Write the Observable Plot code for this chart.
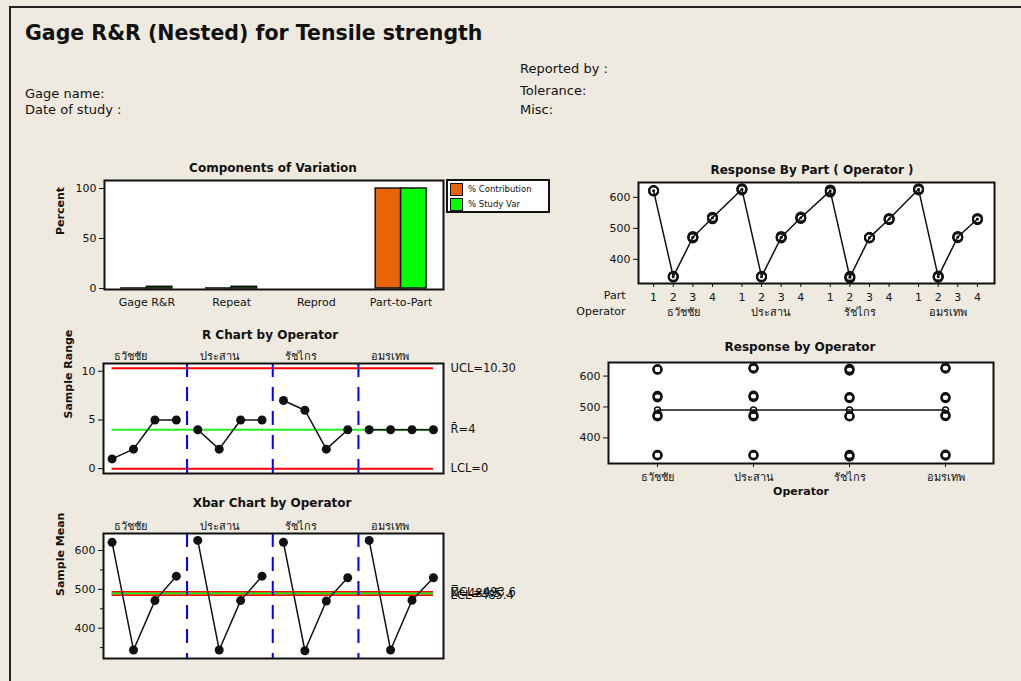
<!DOCTYPE html>
<html><head><meta charset="utf-8">
<script src="https://cdn.jsdelivr.net/npm/d3@7"></script>
<script src="https://cdn.jsdelivr.net/npm/@observablehq/plot@0.6"></script>
<style>
html,body{margin:0;padding:0;background:#EEEAE0;overflow:hidden;}
#page{position:relative;width:1021px;height:681px;overflow:hidden;background:#EEEAE0;font-family:"DejaVu Sans",sans-serif;color:#111;}
#btop{position:absolute;left:9px;top:6px;width:1012px;height:2px;background:#222;}
#bleft{position:absolute;left:9px;top:6px;width:2px;height:675px;background:#222;}
.abs{position:absolute;white-space:nowrap;}
.title{position:absolute;width:400px;text-align:center;font-weight:bold;font-size:12px;line-height:14px;}
.hdr{position:absolute;font-size:13px;line-height:16px;white-space:nowrap;}
#legend{position:absolute;left:446px;top:179px;width:100px;height:30px;border:2px solid #111;background:#fff;font-size:8.5px;}
.sw{position:absolute;left:2px;width:11px;height:11px;border:1.5px solid #111;}
.lt{position:absolute;left:20px;line-height:11px;}
</style></head>
<body><div id="page"><div id="btop"></div><div id="bleft"></div></div>
<script>
// ---------- data ----------
const operators = ["ธวัชชัย", "ประสาน", "รัชไกร", "อมรเทพ"];
const parts = [1, 2, 3, 4];
const components = ["Gage R&R", "Repeat", "Reprod", "Part-to-Part"];
const pctContribution = [0.03, 0.03, 0.0, 99.97];
const pctStudyVar = [1.7, 1.7, 0.0, 99.99];
const sampleRanges = [1, 2, 5, 5, 4, 2, 5, 5, 7, 6, 2, 4, 4, 4, 4, 4];
const sampleMeans = [621, 344, 471, 534, 626, 344, 471, 534, 621, 342, 470, 530, 626, 344, 472, 530];
const trialValues = [
  [621, 621, 622], [343, 344, 345], [469, 471, 474], [531, 534, 536],
  [624, 626, 628], [343, 344, 345], [469, 470, 474], [532, 533, 537],
  [617, 622, 624], [339, 342, 345], [469, 470, 471], [528, 530, 532],
  [624, 626, 628], [342, 344, 346], [470, 472, 474], [528, 530, 532]
];
const operatorMeans = [490, 490, 490, 490];
const rUCL = 10.30, rBar = 4, rLCL = 0;
const xUCL = 493.6, xBar = 489.5, xLCL = 485.4;
const legendLabels = ["% Contribution", "% Study Var"];
const colors = {contribution: "#E8650A", studyVar: "#00FF00"};

// ---------- derived tables ----------
const nP = parts.length;
const samples = operators.flatMap((op, g) => parts.map((p, j) => ({
  op, g, part: p, idx: g * nP + j + 1, pos: g * (nP + 0.5) + p,
  range: sampleRanges[g * nP + j], mean: sampleMeans[g * nP + j], trials: trialValues[g * nP + j]
})));
const trialRows = samples.flatMap(s => s.trials.map(v => ({op: s.op, pos: s.pos, v})));
const dividers = operators.slice(1).map((_, g) => (g + 1) * nP + 0.5);
const firstIdx = samples[0].idx, lastIdx = samples[samples.length - 1].idx;
const compRows = components.flatMap((c, i) => [
  {i, v: pctContribution[i], a: i - 0.3, b: i, fill: colors.contribution},
  {i, v: pctStudyVar[i], a: i, b: i + 0.3, fill: colors.studyVar}
]);

const page = document.getElementById("page");
const FONT = "DejaVu Sans, sans-serif";
const baseStyle = {background: "transparent", fontFamily: FONT, fontSize: "11px", color: "#111", overflow: "visible"};
function place(el, left, top) { el.style.position = "absolute"; el.style.left = left + "px"; el.style.top = top + "px"; page.appendChild(el); }
function div(cls, text, left, top, extra) {
  const d = document.createElement("div"); d.className = cls; d.textContent = text;
  d.style.left = left + "px"; d.style.top = top + "px"; if (extra) Object.assign(d.style, extra); page.appendChild(d); return d;
}

// ---------- header ----------
div("abs", "Gage R&R (Nested) for Tensile strength", 25, 21, {fontSize: "20.5px", fontWeight: "bold"});
div("hdr", "Gage name:", 25, 86);
div("hdr", "Date of study :", 25, 102);
div("hdr", "Reported by :", 520, 61);
div("hdr", "Tolerance:", 520, 83);
div("hdr", "Misc:", 520, 102);

// ---------- titles ----------
div("title", "Components of Variation", 273 - 200, 161);
div("title", "Response By Part ( Operator )", 812 - 200, 163);
div("title", "R Chart by Operator", 270 - 200, 328);
div("title", "Response by Operator", 800 - 200, 340);
div("title", "Xbar Chart by Operator", 272 - 200, 496);

// ---------- Components of Variation ----------
place(Plot.plot({
  width: 420, height: 165, marginLeft: 64, marginRight: 17, marginTop: 30, marginBottom: 26,
  style: baseStyle,
  x: {domain: [-0.5, 3.5]}, y: {domain: [-1, 108]},
  marks: [
    Plot.frame({fill: "white", stroke: null}),
    Plot.rect(compRows, {x1: "a", x2: "b", y1: () => 0, y2: "v", fill: "fill", stroke: "#111", strokeWidth: 1.5}),
    Plot.frame({stroke: "#111", strokeWidth: 2}),
    Plot.axisY({ticks: [0, 50, 100], tickSize: 5, tickPadding: 3, label: null}),
    Plot.axisX({ticks: [0, 1, 2, 3], tickFormat: i => components[i], tickSize: 0, tickPadding: 9, label: null}),
    Plot.text(["Percent"], {frameAnchor: "left", rotate: -90, dx: -44, fontWeight: "bold"})
  ]
}), 40, 150);

// legend
const lg = document.createElement("div"); lg.id = "legend";
legendLabels.forEach((t, k) => {
  const s = document.createElement("div"); s.className = "sw"; s.style.top = (2 + k * 15) + "px";
  s.style.background = k === 0 ? colors.contribution : colors.studyVar; lg.appendChild(s);
  const l = document.createElement("div"); l.className = "lt"; l.style.top = (3 + k * 15) + "px"; l.textContent = t; lg.appendChild(l);
});
page.appendChild(lg);

// ---------- Response By Part (Operator) ----------
place(Plot.plot({
  width: 451, height: 170, marginLeft: 68, marginRight: 27, marginTop: 32, marginBottom: 37,
  style: baseStyle,
  x: {domain: [0.23, 18.37]}, y: {domain: [322, 648]},
  marks: [
    Plot.frame({fill: "white", stroke: null}),
    Plot.line(samples, {x: "pos", y: "mean", stroke: "#111", strokeWidth: 1.5}),
    Plot.dot(trialRows, {x: "pos", y: "v", r: 4.5, stroke: "#111", strokeWidth: 2, fill: "none"}),
    Plot.dot(samples, {x: "pos", y: "mean", r: 1.5, fill: "#111"}),
    Plot.frame({stroke: "#111", strokeWidth: 2}),
    Plot.axisY({ticks: [400, 500, 600], tickSize: 5, tickPadding: 3, label: null}),
    Plot.axisX({ticks: samples.map(s => s.pos), tickFormat: p => samples.find(s => s.pos === p).part, tickSize: 4, tickPadding: 6, label: null}),
    Plot.text(operators, {x: (d, g) => g * (nP + 0.5) + (nP + 1) / 2, frameAnchor: "bottom", dy: 32}),
    Plot.text(["Part"], {frameAnchor: "bottom-left", textAnchor: "end", dx: -13, dy: 15}),
    Plot.text(["Operator"], {frameAnchor: "bottom-left", textAnchor: "end", dx: -13, dy: 31})
  ]
}), 570, 150);

// ---------- R Chart by Operator ----------
const rLimits = [{v: rUCL, c: "#FF0000"}, {v: rLCL, c: "#FF0000"}, {v: rBar, c: "#22EE22"}];
place(Plot.plot({
  width: 480, height: 170, marginLeft: 63, marginRight: 77, marginTop: 43, marginBottom: 17,
  style: baseStyle,
  x: {domain: [0.6, 16.47], axis: null}, y: {domain: [-0.5, 10.8]},
  marks: [
    Plot.frame({fill: "white", stroke: null}),
    Plot.ruleY(rLimits, {y: "v", x1: () => firstIdx, x2: () => lastIdx, stroke: "c", strokeWidth: 2}),
    Plot.ruleX(dividers, {stroke: "#0000FF", strokeWidth: 2, strokeDasharray: "14,10"}),
    Plot.line(samples, {x: "idx", y: "range", z: "op", stroke: "#111", strokeWidth: 1.5}),
    Plot.dot(samples, {x: "idx", y: "range", r: 4.5, fill: "#111"}),
    Plot.frame({stroke: "#111", strokeWidth: 2}),
    Plot.axisY({ticks: [0, 5, 10], tickSize: 5, tickPadding: 3, label: null}),
    Plot.text(operators, {x: (d, g) => g * nP + 1, frameAnchor: "top", textAnchor: "start", dx: 2, dy: -11}),
    Plot.text([`UCL=${rUCL.toFixed(2)}`, `R\u0304=${rBar}`, `LCL=${rLCL}`], {y: (d, i) => [rUCL, rBar, rLCL][i], frameAnchor: "right", textAnchor: "start", dx: 7, fontSize: 11.5}),
    Plot.text(["Sample Range"], {frameAnchor: "left", rotate: -90, dx: -35, fontWeight: "bold"})
  ]
}), 40, 320);

// ---------- Response by Operator ----------
const opRows = operators.map((op, g) => ({op, v: operatorMeans[g]}));
place(Plot.plot({
  width: 451, height: 180, marginLeft: 38, marginRight: 28, marginTop: 32, marginBottom: 47,
  style: baseStyle,
  x: {type: "point", domain: operators, padding: 0.5}, y: {domain: [317, 644]},
  marks: [
    Plot.frame({fill: "white", stroke: null}),
    Plot.line(opRows, {x: "op", y: "v", stroke: "#111", strokeWidth: 1.5}),
    Plot.dot(trialRows, {x: "op", y: "v", r: 4, stroke: "#111", strokeWidth: 2, fill: "none"}),
    Plot.dot(opRows, {x: "op", y: "v", r: 3, stroke: "#111", strokeWidth: 1.5, fill: "none"}),
    Plot.frame({stroke: "#111", strokeWidth: 2}),
    Plot.axisY({ticks: [400, 500, 600], tickSize: 5, tickPadding: 3, label: null}),
    Plot.axisX({tickSize: 4, tickPadding: 6, label: null}),
    Plot.text(["Operator"], {frameAnchor: "bottom", dy: 31, fontWeight: "bold"})
  ]
}), 570, 330);

// ---------- Xbar Chart by Operator ----------
const xRed = [{v: xUCL}, {v: xLCL}];
const xCenter = [{v: xBar}];
place(Plot.plot({
  width: 480, height: 191, marginLeft: 63, marginRight: 77, marginTop: 43, marginBottom: 23,
  style: baseStyle,
  x: {domain: [0.6, 16.47], axis: null}, y: {domain: [322, 643.8]},
  marks: [
    Plot.frame({fill: "white", stroke: null}),
    Plot.ruleY(xRed, {y: "v", x1: () => firstIdx, x2: () => lastIdx, stroke: "#FF0000", strokeWidth: 1.8}),
    Plot.ruleY(xCenter, {y: "v", x1: () => firstIdx, x2: () => lastIdx, stroke: "#00EE00", strokeWidth: 1.8}),
    Plot.ruleX(dividers, {stroke: "#0000FF", strokeWidth: 2, strokeDasharray: "14,10"}),
    Plot.line(samples, {x: "idx", y: "mean", z: "op", stroke: "#111", strokeWidth: 1.5}),
    Plot.dot(samples, {x: "idx", y: "mean", r: 4.5, fill: "#111"}),
    Plot.frame({stroke: "#111", strokeWidth: 2}),
    Plot.axisY({ticks: [400, 500, 600], tickSize: 5, tickPadding: 3, label: null}),
    Plot.axisY({ticks: [350, 450, 550], tickSize: 3, tickFormat: () => "", label: null}),
    Plot.text(operators, {x: (d, g) => g * nP + 1, frameAnchor: "top", textAnchor: "start", dx: 2, dy: -11}),
    Plot.text([`UCL=${xUCL}`, `X\u033F=${xBar}`, `LCL=${xLCL}`], {y: (d, i) => [xUCL, xBar, xLCL][i], frameAnchor: "right", textAnchor: "start", dx: 7, fontSize: 11.5}),
    Plot.text(["Sample Mean"], {frameAnchor: "left", rotate: -90, dx: -43, fontWeight: "bold"})
  ]
}), 40, 490);
</script></body></html>
